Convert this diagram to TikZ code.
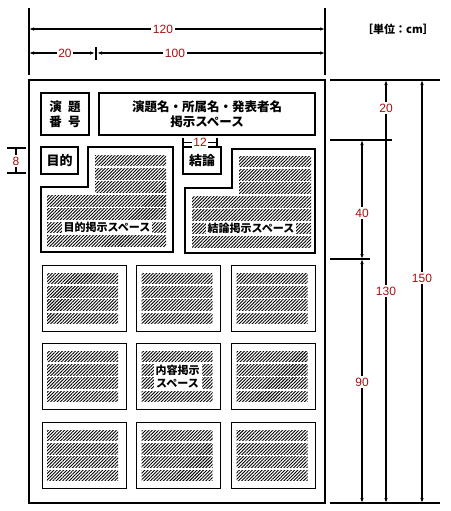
\documentclass[tikz,border=0pt]{standalone}
\usepackage{fontspec}
\setmainfont{Liberation Sans}
\newfontfamily\jp{Noto Sans CJK JP}
\usetikzlibrary{arrows.meta,patterns.meta}
\definecolor{dimred}{RGB}{170,15,15}
\tikzset{
  board/.style={draw,line width=1.5pt,inner sep=0pt},
  headbox/.style={draw,line width=2pt,inner sep=0pt,align=center,font=\jp\bfseries\fontsize{12.5}{15}\selectfont},
  smallhead/.style={draw,line width=2pt,inner sep=0pt,font=\jp\bfseries\fontsize{13}{15}\selectfont},
  arealine/.style={draw,line width=1.1pt},
  gridbox/.style={draw,line width=1pt,inner sep=0pt,minimum width=84pt,minimum height=66pt},
  hatch/.style={pattern={Lines[angle=45,distance=2.3pt,line width=0.9pt]},pattern color=black},
  spacelabel/.style={fill=white,inner sep=1.5pt,align=center,font=\jp\bfseries\fontsize{11}{13}\selectfont},
  dimline/.style={line width=1.1pt,{Latex[length=5pt,width=3.5pt]}-{Latex[length=5pt,width=3.5pt]}},
  extline/.style={line width=1.3pt},
  dimlabel/.style={fill=white,inner sep=1.5pt,text=dimred,font=\fontsize{12}{12}\selectfont},
}
\begin{document}
\begin{tikzpicture}[x=1pt,y=-1pt]
\useasboundingbox (0,0) rectangle (450,511);

% board
\node[board,minimum width=296pt,minimum height=423pt] (board) at (177,291.5) {};

% heading boxes
\node[headbox,minimum width=48pt,minimum height=42pt] (num) at (65,114) {演\hspace{0.5em}題\\番\hspace{0.5em}号};
\node[headbox,minimum width=216pt,minimum height=42pt] (title) at (207,114) {演題名・所属名・発表者名\\掲示スペース};
\node[smallhead,minimum width=37pt,minimum height=27pt] (mokuteki) at (59.5,160.5) {目的};
\node[smallhead,minimum width=38pt,minimum height=27pt] (ketsuron) at (202,160.5) {結論};

% L-shaped areas
\draw[arealine] (88,147) -- (173,147) -- (173,252) -- (41,252) -- (41,187) -- (88,187) -- cycle;
\draw[arealine] (232,149) -- (315,149) -- (315,253) -- (185,253) -- (185,188) -- (232,188) -- cycle;

% strips of the purpose and conclusion areas
\foreach \k in {0,1,2} {
  \fill[hatch] (95,{155+\k*13.4}) rectangle (166,{165.8+\k*13.4});
  \fill[hatch] (239,{156+\k*13.4}) rectangle (311,{166.8+\k*13.4});
}
\foreach \k in {3,4,5,6} {
  \fill[hatch] (47,{155+\k*13.4}) rectangle (166,{165.8+\k*13.4});
  \fill[hatch] (192,{156+\k*13.4}) rectangle (311,{166.8+\k*13.4});
}
\node[spacelabel] (mokutekilabel) at (107,227.5) {目的掲示スペース};
\node[spacelabel] (ketsuronlabel) at (251,228.5) {結論掲示スペース};

% grid of content boxes
\foreach \cx/\cy/\n in {84/298/1,178.5/298/2,273.5/298/3,84/376/4,178.5/376/5,273.5/376/6,84/455/7,178.5/455/8,273.5/455/9} {
  \node[gridbox] (g\n) at (\cx,\cy) {};
  \foreach \k in {0,1,2,3} {
    \fill[hatch] ({\cx-37},{\cy-25+\k*13.35}) rectangle ({\cx+34},{\cy-14.2+\k*13.35});
  }
}
\node[spacelabel,inner sep=2pt] (naiyolabel) at (177.5,376.5) {内容掲示\\スペース};

% top dimensions
\coordinate (tl1) at (29,8);  \coordinate (tl2) at (29,75);
\coordinate (tr1) at (325,8); \coordinate (tr2) at (325,75);
\draw[extline] (tl1) -- (tl2);
\draw[extline] (tr1) -- (tr2);
\coordinate (d120a) at (29,29); \coordinate (d120b) at (325,29);
\draw[dimline] (d120a) -- (d120b);
\node[dimlabel] (l120) at (163,29) {120};
\coordinate (d20a) at (29,53); \coordinate (d20b) at (95,53);
\coordinate (d100a) at (97,53); \coordinate (d100b) at (325,53);
\draw[dimline] (d20a) -- (d20b);
\draw[dimline] (d100a) -- (d100b);
\coordinate (tk1) at (96,47); \coordinate (tk2) at (96,60);
\draw[extline] (tk1) -- (tk2);
\node[dimlabel] (l20) at (65,53) {20};
\node[dimlabel] (l100) at (175,53) {100};

% unit
\node[inner sep=0pt,font=\jp\bfseries\fontsize{11}{11}\selectfont] (unit) at (398,29) {［単位：cm］};

% right dimensions
\coordinate (h1a) at (330,80);  \coordinate (h1b) at (440,80);
\coordinate (h2a) at (330,140); \coordinate (h2b) at (392,140);
\coordinate (h3a) at (330,259); \coordinate (h3b) at (370,259);
\coordinate (h4a) at (330,503); \coordinate (h4b) at (440,503);
\draw[extline] (h1a) -- (h1b);
\draw[extline] (h2a) -- (h2b);
\draw[extline] (h3a) -- (h3b);
\draw[extline] (h4a) -- (h4b);
\coordinate (v20a) at (386,80);  \coordinate (v20b) at (386,503);
\draw[dimline] (v20a) -- (v20b);
\node[dimlabel] (r20) at (386,108) {20};
\node[dimlabel] (r130) at (386,291) {130};
\coordinate (v40a) at (362,140); \coordinate (v40b) at (362,259);
\draw[dimline] (v40a) -- (v40b);
\node[dimlabel] (r40) at (362,213) {40};
\coordinate (v90a) at (362,259); \coordinate (v90b) at (362,503);
\draw[dimline] (v90a) -- (v90b);
\node[dimlabel] (r90) at (362,382) {90};
\coordinate (v150a) at (422,80); \coordinate (v150b) at (422,503);
\draw[dimline] (v150a) -- (v150b);
\node[dimlabel] (r150) at (422,278) {150};

% left 8 dimension
\coordinate (e1a) at (7,148); \coordinate (e1b) at (26,148);
\coordinate (e2a) at (7,173); \coordinate (e2b) at (26,173);
\draw[extline] (e1a) -- (e1b);
\draw[extline] (e2a) -- (e2b);
\coordinate (v8a) at (16,148); \coordinate (v8b) at (16,173);
\draw[extline] (v8a) -- (v8b);
\node[dimlabel] (l8) at (16,161) {8};

% 12 dimension
\coordinate (t12a) at (183,138); \coordinate (t12b) at (183,147);
\coordinate (t12c) at (217,138); \coordinate (t12d) at (217,147);
\draw[line width=1.1pt] (t12a) -- (t12b);
\draw[line width=1.1pt] (t12c) -- (t12d);
\coordinate (s12a) at (183,142.5); \coordinate (s12b) at (217,142.5);
\draw[line width=1.1pt] (s12a) -- (s12b);
\node[dimlabel] (l12) at (200,142.5) {12};
\end{tikzpicture}
\end{document}
